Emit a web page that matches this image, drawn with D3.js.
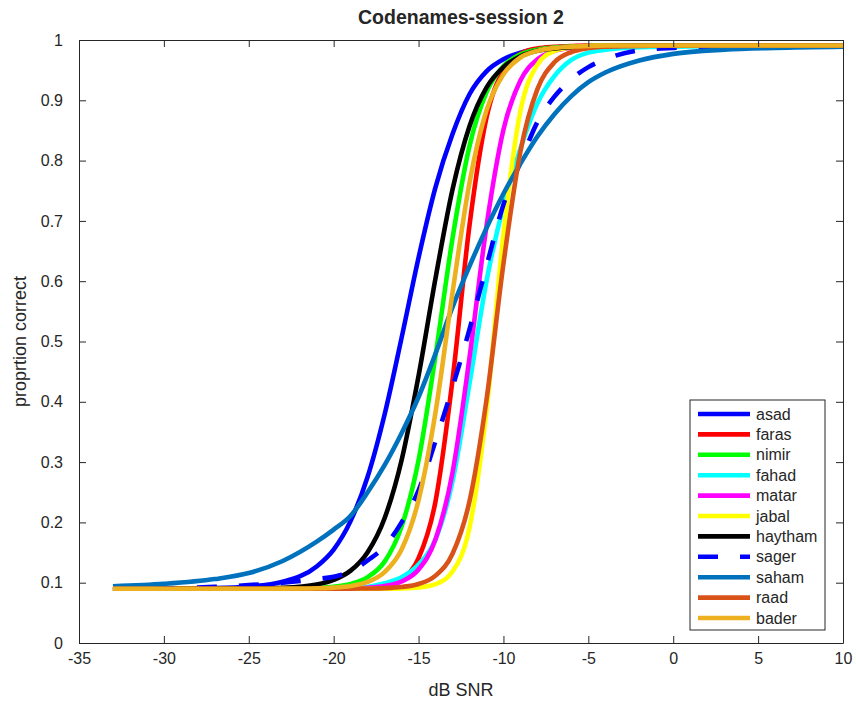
<!DOCTYPE html>
<html>
<head>
<meta charset="utf-8">
<script src="https://cdn.jsdelivr.net/npm/d3@7/dist/d3.min.js"></script>
<style>
  html, body { margin: 0; padding: 0; background: #fff; }
  svg text { font-family: "Liberation Sans", Arial, Helvetica, sans-serif; fill: #262626; }
</style>
</head>
<body>
<svg id="chart" width="856" height="701"></svg>
<script>
// Fitted psychometric functions, sampled on a common dB SNR grid
const snr = [-33, -30, -27, -25, -23, -21, -20, -19, -18, -17, -16, -15, -14, -13, -12, -11, -10, -9, -8, -7, -6, -5, -4, -2, 0, 3, 6, 10];

const asad    = [0.090, 0.0902, 0.091, 0.0935, 0.1016, 0.127, 0.155, 0.2025, 0.2757, 0.379, 0.506, 0.639, 0.756, 0.844, 0.910, 0.948, 0.968, 0.979, 0.985, 0.988, 0.989, 0.990, 0.990, 0.991, 0.991, 0.991, 0.991, 0.991];
const faras   = [0.090, 0.090, 0.090, 0.090, 0.090, 0.090, 0.0902, 0.0905, 0.0916, 0.095, 0.106, 0.1406, 0.235, 0.436, 0.6926, 0.871, 0.9495, 0.977, 0.986, 0.9888, 0.990, 0.991, 0.991, 0.991, 0.991, 0.991, 0.991, 0.991];
const nimir   = [0.090, 0.090, 0.090, 0.090, 0.0901, 0.0914, 0.0933, 0.098, 0.1093, 0.135, 0.193, 0.303, 0.477, 0.671, 0.824, 0.913, 0.957, 0.976, 0.984, 0.9876, 0.989, 0.990, 0.991, 0.991, 0.991, 0.991, 0.991, 0.991];
const fahad   = [0.090, 0.090, 0.090, 0.090, 0.090, 0.090, 0.0903, 0.091, 0.093, 0.099, 0.109, 0.130, 0.172, 0.268, 0.430, 0.600, 0.725, 0.820, 0.895, 0.940, 0.967, 0.979, 0.984, 0.988, 0.989, 0.990, 0.991, 0.991];
const matar   = [0.090, 0.090, 0.090, 0.090, 0.090, 0.090, 0.0902, 0.0906, 0.0916, 0.0945, 0.102, 0.122, 0.172, 0.2826, 0.473, 0.691, 0.851, 0.933, 0.968, 0.982, 0.987, 0.989, 0.990, 0.991, 0.991, 0.991, 0.991, 0.991];
const jabal   = [0.090, 0.090, 0.090, 0.090, 0.090, 0.090, 0.090, 0.090, 0.090, 0.0901, 0.0905, 0.092, 0.0976, 0.1185, 0.191, 0.385, 0.678, 0.882, 0.959, 0.982, 0.988, 0.990, 0.991, 0.991, 0.991, 0.991, 0.991, 0.991];
const haytham = [0.090, 0.090, 0.0901, 0.0904, 0.0917, 0.0972, 0.1048, 0.120, 0.1506, 0.207, 0.303, 0.443, 0.605, 0.752, 0.857, 0.921, 0.955, 0.973, 0.982, 0.986, 0.988, 0.989, 0.990, 0.991, 0.991, 0.991, 0.991, 0.991];
const sager   = [0.090, 0.0905, 0.093, 0.096, 0.100, 0.106, 0.110, 0.118, 0.137, 0.160, 0.200, 0.253, 0.335, 0.424, 0.520, 0.625, 0.727, 0.797, 0.864, 0.906, 0.935, 0.955, 0.968, 0.983, 0.987, 0.989, 0.990, 0.991];
const saham   = [0.094, 0.098, 0.106, 0.116, 0.136, 0.168, 0.188, 0.211, 0.250, 0.295, 0.348, 0.408, 0.480, 0.557, 0.625, 0.688, 0.745, 0.795, 0.840, 0.877, 0.907, 0.930, 0.946, 0.966, 0.977, 0.984, 0.987, 0.989];
const raad    = [0.090, 0.090, 0.090, 0.090, 0.090, 0.090, 0.090, 0.0901, 0.0904, 0.091, 0.0929, 0.0978, 0.1117, 0.148, 0.235, 0.403, 0.629, 0.815, 0.9185, 0.963, 0.980, 0.9866, 0.989, 0.990, 0.991, 0.991, 0.991, 0.991];
const bader   = [0.090, 0.090, 0.090, 0.090, 0.0901, 0.0907, 0.0919, 0.0946, 0.1013, 0.1176, 0.155, 0.237, 0.383, 0.581, 0.763, 0.883, 0.943, 0.971, 0.982, 0.9868, 0.989, 0.990, 0.991, 0.991, 0.991, 0.991, 0.991, 0.991];

const names  = ["asad", "faras", "nimir", "fahad", "matar", "jabal", "haytham", "sager", "saham", "raad", "bader"];
const values = [asad, faras, nimir, fahad, matar, jabal, haytham, sager, saham, raad, bader];
const colors = ["#0000FF", "#FF0000", "#00FF00", "#00FFFF", "#FF00FF", "#FFFF00", "#000000", "#0000FF", "#0072BD", "#D95319", "#EDB120"];
const dashed = [false, false, false, false, false, false, false, true, false, false, false];

const xTicks = [-35, -30, -25, -20, -15, -10, -5, 0, 5, 10];
const xTickLabels = ["-35", "-30", "-25", "-20", "-15", "-10", "-5", "0", "5", "10"];
const yTicks = [0, 0.1, 0.2, 0.3, 0.4, 0.5, 0.6, 0.7, 0.8, 0.9, 1];
const yTickLabels = ["0", "0.1", "0.2", "0.3", "0.4", "0.5", "0.6", "0.7", "0.8", "0.9", "1"];

const titleText = "Codenames-session 2";
const xLabel = "dB SNR";
const yLabel = "proprtion correct";

const svg = d3.select("#chart");
const mLeft = 79, mRight = 843, mTop = 40, mBottom = 643;

const x = d3.scaleLinear().domain([-35, 10]).range([mLeft, mRight]);
const y = d3.scaleLinear().domain([0, 1]).range([mBottom, mTop]);

const axisColor = "#262626";
const tickLen = 7;
const fontStack = "'Liberation Sans', Arial, Helvetica, sans-serif";

// clip so curves stay inside the axes box
svg.append("defs").append("clipPath").attr("id", "plotclip")
  .append("rect").attr("x", mLeft).attr("y", mTop).attr("width", mRight - mLeft).attr("height", mBottom - mTop);

// curves
const line = d3.line()
  .x(d => x(d[0]))
  .y(d => y(d[1]))
  .curve(d3.curveMonotoneX);

const curves = svg.append("g").attr("clip-path", "url(#plotclip)");
names.forEach((name, i) => {
  const pts = snr.map((s, j) => [s, values[i][j]]);
  curves.append("path")
    .datum(pts)
    .attr("d", line)
    .attr("fill", "none")
    .attr("stroke", colors[i])
    .attr("stroke-width", 4.6)
    .attr("stroke-linejoin", "round")
    .attr("stroke-dasharray", dashed[i] ? "20,22" : null);
});

// axes (ticks point inward, box on)
function styleAxis(g) {
  g.select(".domain").attr("stroke", axisColor).attr("stroke-width", 1);
  g.selectAll(".tick line").attr("stroke", axisColor).attr("stroke-width", 1);
  g.selectAll(".tick text").attr("fill", axisColor).style("font-size", "16px")
    .style("font-family", fontStack);
}

svg.append("g").attr("transform", `translate(0,${mBottom})`)
  .call(d3.axisBottom(x).tickValues(xTicks).tickFormat((d, i) => xTickLabels[i]).tickSizeInner(-tickLen).tickSizeOuter(0).tickPadding(10))
  .call(styleAxis);

svg.append("g").attr("transform", `translate(0,${mTop})`)
  .call(d3.axisTop(x).tickValues(xTicks).tickFormat("").tickSizeInner(-tickLen).tickSizeOuter(0))
  .call(styleAxis);

svg.append("g").attr("transform", `translate(${mLeft},0)`)
  .call(d3.axisLeft(y).tickValues(yTicks).tickFormat((d, i) => yTickLabels[i]).tickSizeInner(-tickLen).tickSizeOuter(0).tickPadding(16))
  .call(styleAxis);

svg.append("g").attr("transform", `translate(${mRight},0)`)
  .call(d3.axisRight(y).tickValues(yTicks).tickFormat("").tickSizeInner(-tickLen).tickSizeOuter(0))
  .call(styleAxis);

// title and axis labels
svg.append("text")
  .attr("x", (mLeft + mRight) / 2).attr("y", 17)
  .attr("text-anchor", "middle").attr("dominant-baseline", "central")
  .style("font-size", "19.5px").style("font-weight", "bold").attr("fill", "#000")
  .text(titleText);

svg.append("text")
  .attr("x", (mLeft + mRight) / 2).attr("y", 690)
  .attr("text-anchor", "middle").attr("dominant-baseline", "central")
  .style("font-size", "18px")
  .text(xLabel);

svg.append("text")
  .attr("transform", `translate(20,${(mTop + mBottom) / 2}) rotate(-90)`)
  .attr("text-anchor", "middle").attr("dominant-baseline", "central")
  .style("font-size", "18px")
  .text(yLabel);

// legend
const lg = svg.append("g");
const lgX = 690, lgY = 400, lgW = 135, lgH = 230, rowH = 20.4;
lg.append("rect").attr("x", lgX).attr("y", lgY).attr("width", lgW).attr("height", lgH)
  .attr("fill", "#fff").attr("stroke", axisColor).attr("stroke-width", 1);
names.forEach((name, i) => {
  const cy = lgY + 14 + i * rowH;
  lg.append("line")
    .attr("x1", lgX + 8).attr("x2", lgX + 60).attr("y1", cy).attr("y2", cy)
    .attr("stroke", colors[i]).attr("stroke-width", 4.6)
    .attr("stroke-dasharray", dashed[i] ? "20,22" : null);
  lg.append("text")
    .attr("x", lgX + 66).attr("y", cy)
    .attr("dominant-baseline", "central")
    .style("font-size", "16px").attr("fill", "#000")
    .text(name);
});
</script>
</body>
</html>
